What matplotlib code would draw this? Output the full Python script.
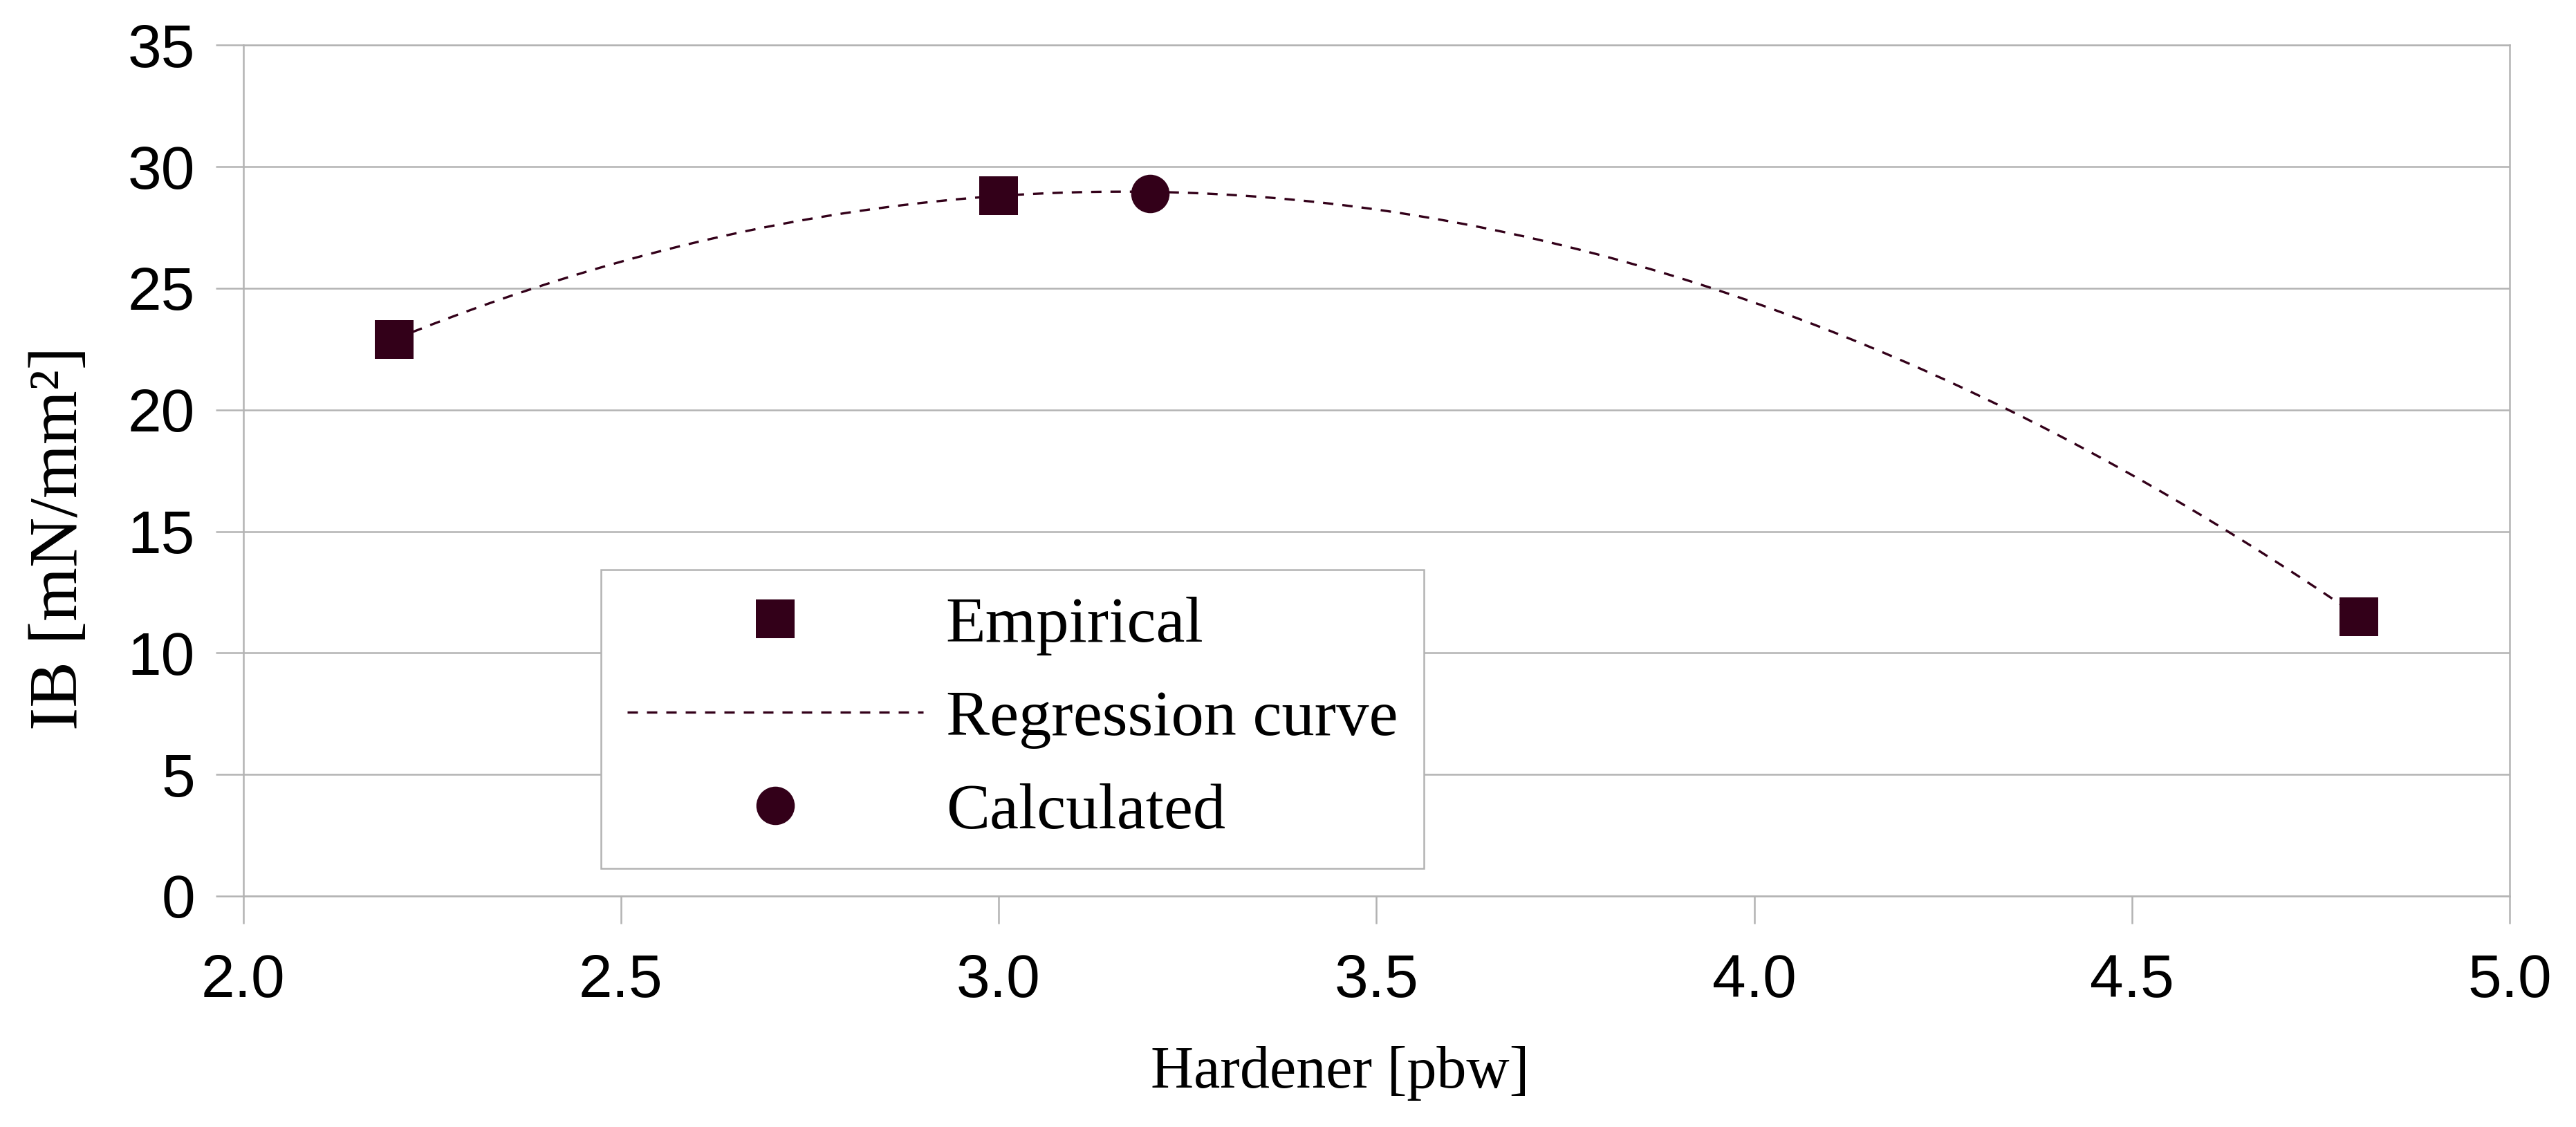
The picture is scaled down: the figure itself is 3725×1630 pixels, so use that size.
import matplotlib
matplotlib.use("Agg")
import matplotlib.pyplot as plt
import numpy as np

# measured points
hardener_emp = [2.2, 3.0, 4.8]
ib_emp       = [22.9, 28.8, 11.5]

# calculated optimum
hardener_calc = [3.2]
ib_calc       = [28.9]

x_ticks = [2.0, 2.5, 3.0, 3.5, 4.0, 4.5, 5.0]
y_ticks = [0, 5, 10, 15, 20, 25, 30, 35]

MARK  = '#330019'
GRID  = '#b3b3b3'
SANS  = ['Liberation Sans', 'DejaVu Sans']
SERIF = ['Liberation Serif', 'DejaVu Serif']

W, H, DPI = 3725, 1630, 100

fig = plt.figure(figsize=(W / DPI, H / DPI), dpi=DPI, facecolor='white')
ax = fig.add_axes([351.5 / W, 1 - 1296 / H, (3629 - 351.5) / W, (1296 - 65.4) / H])

# quadratic regression through the empirical data
coef = np.polyfit(hardener_emp, ib_emp, 2)
xs = np.linspace(min(hardener_emp), max(hardener_emp), 400)
ys = np.polyval(coef, xs)

l_emp, = ax.plot(hardener_emp, ib_emp, linestyle='none', marker='s',
                 markersize=41, color=MARK, markeredgewidth=0,
                 label='Empirical', zorder=4)
l_reg, = ax.plot(xs, ys, color=MARK, linewidth=2.4, dashes=(4.5, 3.9),
                 label='Regression curve', zorder=3)
l_calc, = ax.plot(hardener_calc, ib_calc, linestyle='none', marker='o',
                  markersize=40, color=MARK, markeredgewidth=0,
                  label='Calculated', zorder=4)

ax.set_xlim(x_ticks[0], x_ticks[-1])
ax.set_ylim(y_ticks[0], y_ticks[-1])
ax.set_xticks(x_ticks)
ax.set_yticks(y_ticks)
ax.set_xticklabels([f"{v:.1f}" for v in x_ticks], family=SANS, fontsize=63)
ax.set_yticklabels([str(v) for v in y_ticks], family=SANS, fontsize=63)

ax.tick_params(axis='both', direction='out', length=29, width=1.8, color=GRID)
ax.tick_params(axis='x', pad=31)
ax.tick_params(axis='y', pad=21)

ax.set_axisbelow(True)
ax.yaxis.grid(True, color=GRID, linewidth=1.8)
ax.xaxis.grid(False)
for sp in ax.spines.values():
    sp.set_color(GRID)
    sp.set_linewidth(1.8)

fig.text(1938 / W, 1 - 1573 / H, 'Hardener [pbw]', family=SERIF, fontsize=62,
         ha='center', va='baseline')
fig.text(87 / W, 1 - 778 / H, 'IB [mN/mm²]', family=SERIF, fontsize=72,
         rotation=90, ha='center', va='center')

leg = ax.legend(handles=[l_emp, l_reg, l_calc], loc='upper left',
                bbox_to_anchor=(869 / W, 1 - 824 / H),
                bbox_transform=fig.transFigure, borderaxespad=0,
                prop={'family': SERIF, 'size': 68}, frameon=True,
                fancybox=False, framealpha=1, edgecolor=GRID,
                borderpad=0.4, labelspacing=0.52, handlelength=4.53,
                handletextpad=0.35, markerscale=1.0)
leg.get_frame().set_linewidth(1.8)

fig.savefig('out.png', dpi=DPI, facecolor='white')
